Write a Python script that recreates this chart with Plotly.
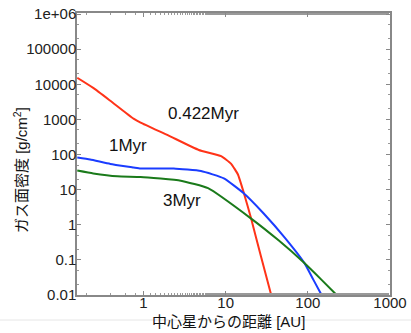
import plotly.graph_objects as go

# Data (x in AU, y in g/cm^2)
r_0422 = [0.156, 0.244, 0.394, 0.755, 0.92, 2.0, 4.7, 8.8, 11.6, 14.1, 16.7, 20.4, 27, 35.8]
s_0422 = [15300, 7900, 3400, 1050, 810, 350, 135, 90, 55, 27, 7.8, 1.5, 0.12, 0.01]

r_1 = [0.156, 0.224, 0.394, 0.755, 0.92, 2.33, 5.0, 9.5, 16.7, 29, 52, 91, 117, 147]
s_1 = [82, 72, 54, 43, 40, 40, 34, 21, 7.8, 2.1, 0.44, 0.081, 0.027, 0.01]

r_3 = [0.156, 0.244, 0.48, 0.92, 2.84, 6.1, 20.4, 44, 88, 147, 224]
s_3 = [35, 29, 24, 23, 18, 11, 1.5, 0.36, 0.087, 0.027, 0.01]

series_names = ["0.422Myr", "1Myr", "3Myr"]
series_colors = ["#ff3318", "#1a3cff", "#1a7a1a"]

y_tickvals = [0.01, 0.1, 1, 10, 100, 1000, 10000, 100000, 1000000]
y_ticktext = ["0.01", "0.1", "1", "10", "100", "1000", "10000", "100000", "1e+06"]
x_tickvals = [1, 10, 100, 1000]
x_ticktext = ["1", "10", "100", "1000"]

FONT = "Liberation Sans, Noto Sans CJK JP, sans-serif"

W, H = 411, 333
L, R, T, B = 77, 21, 13, 38
PW, PH = W - L - R, H - T - B


def px_x(px):
    return (px - L) / PW


def px_y(py):
    return (H - B - py) / PH


fig = go.Figure()
for xs, ys, name, col in zip([r_0422, r_1, r_3], [s_0422, s_1, s_3], series_names, series_colors):
    fig.add_trace(go.Scatter(x=xs, y=ys, mode="lines", name=name,
                             line=dict(color=col, width=2, shape="spline", smoothing=0.4)))

axis_common = dict(
    type="log", showgrid=False, zeroline=False, automargin=False,
    showline=True, linecolor="#888888", linewidth=1.5, mirror="allticks",
    ticks="inside", ticklen=4, tickwidth=1, tickcolor="#888888",
    tickfont=dict(family=FONT, size=15, color="#222222"),
    minor=dict(ticks="inside", ticklen=2, tickcolor="#999999", showgrid=False),
)

fig.update_xaxes(range=[-0.81, 3.0], tickvals=x_tickvals, ticktext=x_ticktext,
                 ticklabelstandoff=-7, **axis_common)
fig.update_yaxes(range=[-2, 6.03], tickvals=y_tickvals, ticktext=y_ticktext,
                 ticklabelstandoff=-4, **axis_common)

# Curve labels
fig.add_annotation(x=0.27, y=3.16, xref="x", yref="y", text="0.422Myr", showarrow=False,
                   xanchor="left", yanchor="middle", font=dict(family=FONT, size=17, color="#111111"))
fig.add_annotation(x=-0.44, y=2.26, xref="x", yref="y", text="1Myr", showarrow=False,
                   xanchor="left", yanchor="middle", font=dict(family=FONT, size=17, color="#111111"))
fig.add_annotation(x=0.21, y=0.70, xref="x", yref="y", text="3Myr", showarrow=False,
                   xanchor="left", yanchor="middle", font=dict(family=FONT, size=17, color="#111111"))

# Axis titles
fig.add_annotation(x=px_x(20), y=px_y(170), xref="paper", yref="paper", xanchor="center", yanchor="middle",
                   text="ガス面密度 [g/cm<sup>2</sup>]", textangle=-90, showarrow=False,
                   font=dict(family=FONT, size=15, color="#111111"))
fig.add_shape(type="line", xref="paper", yref="paper", x0=px_x(0), x1=px_x(W), y0=px_y(320), y1=px_y(320),
              line=dict(color="#e6e6e6", width=1), layer="below")
fig.add_annotation(x=px_x(228), y=px_y(321), xref="paper", yref="paper", xanchor="center", yanchor="middle",
                   text="中心星からの距離 [AU]", showarrow=False,
                   font=dict(family=FONT, size=15, color="#111111"))

fig.update_layout(
    width=W, height=H,
    margin=dict(l=L, r=R, t=T, b=B),
    paper_bgcolor="white", plot_bgcolor="white",
    showlegend=False,
)

fig.write_html("out.html", config={"displayModeBar": False},
               post_script="document.body.style.margin='0';document.body.style.overflow='hidden';")
